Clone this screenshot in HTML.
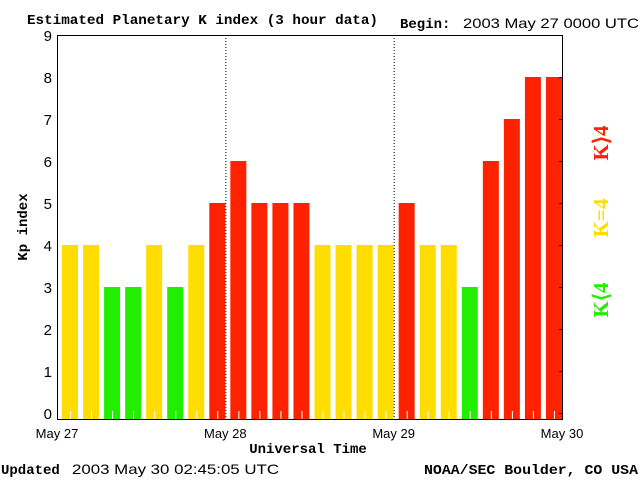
<!DOCTYPE html>
<html><head><meta charset="utf-8"><style>
body{margin:0;background:#fff;width:640px;height:480px;overflow:hidden}
text{font-family:"Liberation Sans",sans-serif}
.s{font-family:"Liberation Mono",monospace;font-weight:bold}
.r{font-family:"Liberation Serif",serif;font-weight:bold}
</style></head><body>
<svg id="c" width="640" height="480">
<text class="s" x="27" y="24" font-size="14" textLength="351" lengthAdjust="spacingAndGlyphs">Estimated Planetary K index (3 hour data)</text>
<text class="s" x="400" y="28" font-size="14">Begin:</text>
<text x="463" y="28" font-size="14" textLength="176" lengthAdjust="spacingAndGlyphs">2003 May 27 0000 UTC</text>
<text class="s" x="0" y="0" font-size="14" transform="translate(27,227) rotate(-90)" text-anchor="middle">Kp index</text>
<text class="s" x="308" y="453" font-size="14" text-anchor="middle">Universal Time</text>
<text class="s" x="1" y="474" font-size="14">Updated</text>
<text x="72" y="474" font-size="14" textLength="207" lengthAdjust="spacingAndGlyphs">2003 May 30 02:45:05 UTC</text>
<text class="s" x="638" y="474" font-size="14" text-anchor="end" textLength="214" lengthAdjust="spacingAndGlyphs">NOAA/SEC Boulder, CO USA</text>
<g transform="translate(608,0) rotate(-90)">
<text x="-300" y="0" font-size="21" fill="#22ee00" text-anchor="middle" class="r">K⟨4</text>
<text x="-218" y="0" font-size="21" fill="#ffdd00" text-anchor="middle" class="r">K=4</text>
<text x="-143" y="0" font-size="21" fill="#ff2200" text-anchor="middle" class="r">K⟩4</text>
</g>
<g id="plot"></g>
</svg>
<script>
const kpValues=[4,4,3,3,4,3,4,5,6,5,5,5,4,4,4,4,5,4,4,3,6,7,8,8];
const yTicks=[0,1,2,3,4,5,6,7,8,9];
const dayLabels=["May 27","May 28","May 29","May 30"];
const L=57,R=562,T=35,B=419,Y0=413,UNIT=42;
const y=k=>Y0-k*UNIT;
const slot=(R-L)/kpValues.length;
const x=i=>L+i*slot;
const g=document.getElementById('plot');
const NS='http://www.w3.org/2000/svg';
function mk(t,a){const e=document.createElementNS(NS,t);for(const k in a)e.setAttribute(k,a[k]);g.appendChild(e);return e;}
kpValues.forEach((v,i)=>{
 const col=v<4?'#22ee00':v==4?'#ffdd00':'#ff2200';
 const r=mk('rect',{x:x(i)+5,y:y(v),width:16,height:B-y(v),fill:col});
 
 
 const t=mk('line',{x1:x(i)+13.5,x2:x(i)+13.5,y1:B-8,y2:B,stroke:'#fff','stroke-width':1});
 
 
});
[1,2].forEach(d=>{
 const xx=L+d*(R-L)/3+0.5;
 const l=mk('line',{x1:xx,x2:xx,y1:T,y2:B,stroke:'#000','stroke-dasharray':'1,2'});
 
 
});
const box=mk('rect',{x:L+0.5,y:T+0.5,width:R-L,height:B-T,fill:'none',stroke:'#000'});


yTicks.forEach(k=>{
 const tl=mk('text',{x:L-5,y:y(k)+6,'text-anchor':'end','font-size':15});
 tl.textContent=k;
 
 
 const tk=mk('line',{x1:R-3,x2:R,y1:y(k)+0.5,y2:y(k)+0.5,stroke:'#000'});
 
 
});
dayLabels.forEach((d,i)=>{
 const t=mk('text',{x:L+i*(R-L)/3,y:438,'text-anchor':'middle','font-size':13});
 t.textContent=d;
 
 
});
</script>
</body></html>
